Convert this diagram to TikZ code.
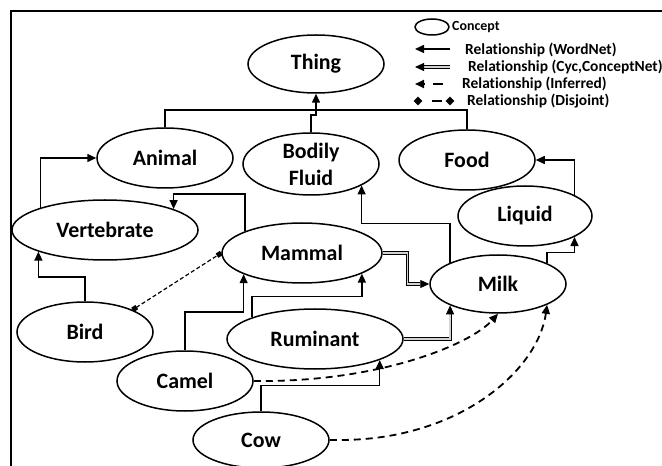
\documentclass[tikz,border=0pt]{standalone}
\usepackage{fontspec}
\setmainfont{Carlito}[Ligatures=NoCommon]
\usetikzlibrary{shapes.geometric,arrows.meta}
\begin{document}
\begin{tikzpicture}[x=1bp,y=-1bp,
  concept/.style={draw, ellipse, line width=1.5bp, inner sep=0pt, align=center,
    font=\fontsize{22}{27}\selectfont\bfseries},
  tip/.style={-{Triangle[length=9bp,width=8bp]}},
  link/.style={draw, line width=1.5bp},
  wordnet/.style={link, tip},
  cyc/.style={draw, line width=0.9bp, double=gray!35, double distance=1.3bp, tip},
  inferred/.style={link, line width=1.8bp, dash pattern=on 7bp off 5bp, tip},
  disjoint/.style={draw, line width=1.2bp, dash pattern=on 4bp off 2.5bp,
    {Square[length=5bp,width=5bp]}-{Square[length=5bp,width=5bp]}},
  legtext/.style={anchor=west, inner sep=0pt, font=\fontsize{14}{16}\selectfont\bfseries},
  reltext/.style={legtext, font=\fontsize{15.5}{18}\selectfont\bfseries},
  legdiamond/.style={diamond, fill, inner sep=0pt, minimum size=9bp}
]
\useasboundingbox (0,0) rectangle (662,466);

% frame
\draw[line width=2bp] (11,466) -- (11,11) -- (662,11);

% concepts
\node[concept, minimum width=136bp, minimum height=58bp] (thing)  at (316,64)  {Thing};
\node[concept, minimum width=136bp, minimum height=60bp] (animal) at (165,158) {Animal};
\node[concept, minimum width=136bp, minimum height=62bp] (bodily) at (311,164) {Bodily\\Fluid};
\node[concept, minimum width=136bp, minimum height=60bp] (food)   at (467,160) {Food};
\node[concept, minimum width=186bp, minimum height=60bp] (vert)   at (105,230) {Vertebrate};
\node[concept, minimum width=134bp, minimum height=60bp] (liquid) at (525,216) {Liquid};
\node[concept, minimum width=160bp, minimum height=60bp] (mammal) at (302,253) {Mammal};
\node[concept, minimum width=136bp, minimum height=58bp] (milk)   at (498,284) {Milk};
\node[concept, minimum width=136bp, minimum height=60bp] (bird)   at (85,332)  {Bird};
\node[concept, minimum width=176bp, minimum height=60bp] (rum)    at (315,339) {Ruminant};
\node[concept, minimum width=136bp, minimum height=60bp] (camel)  at (185,381) {Camel};
\node[concept, minimum width=136bp, minimum height=56bp] (cow)    at (261,440) {Cow};

% is-a links up to Thing
\coordinate (hub) at (316,110);
\draw[link] (animal.north) |- (hub);
\draw[link] (food.north) |- (hub);
\draw[wordnet] (bodily.north) |- (316,115) -- (thing.south);

% WordNet links
\draw[wordnet] (vert.161.7) |- (animal.west);
\draw[wordnet] (mammal.159.7) -- ++(0,-37) -| (vert.17.7);
\draw[wordnet] (bird.north) -- ++(0,-24) -| (vert.198.3);
\draw[wordnet] (camel.north) -- ++(0,-38) -| (mammal.200.3);
\draw[wordnet] (rum.161) -- ++(0,-21) -| (mammal.-19.6);
\draw[wordnet] (milk.156) -- ++(0,-39) -| (bodily.-23.7);
\draw[wordnet] (milk.23.1) -- ++(0,-10.5) -| (liquid.-23.5);
\draw[wordnet] (liquid.23.5) |- (food.east);
\draw[wordnet] (cow.north) -- ++(0,-26) -| (rum.-18.4);

% Cyc / ConceptNet links
\draw[cyc] (mammal.east) -- ++(25,0) |- (milk.west);
\draw[cyc] (rum.east) -| (milk.204);

% disjoint
\draw[disjoint] (bird.25) -- (mammal.west);

% inferred links
\draw[inferred] (camel.east) -- ++(9,0) .. controls (380,381) and (470,345) .. (milk.south);
\draw[inferred] (cow.east) -- ++(10,0) .. controls (460,440) and (538,370) .. (milk.-23.1);

% legend
\node[draw, ellipse, line width=1.5bp, minimum width=34bp, minimum height=16bp, inner sep=0pt] (lgc) at (432,27) {};
\node[legtext] (lgt1) at (452,27) {Concept};
\coordinate (la1) at (450,49);  \coordinate (lb1) at (415,49);
\coordinate (la2) at (450,67);  \coordinate (lb2) at (415,67);
\coordinate (la3) at (443,84);  \coordinate (lb3) at (415,84);
\draw[wordnet] (la1) -- (lb1);
\draw[cyc] (la2) -- (lb2);
\draw[inferred, dash pattern=on 10bp off 8bp] (la3) -- (lb3);
\node[legdiamond] (ld1) at (418,101) {};
\node[legdiamond] (ld2) at (450,101) {};
\draw[line width=1.8bp, dash pattern=on 0bp off 9bp on 10bp off 30bp] (ld1.east) -- (ld2.west);
\node[reltext] (lgt2) at (465,50) {Relationship (WordNet)};
\node[reltext] (lgt3) at (468,67) {Relationship (Cyc,ConceptNet)};
\node[reltext] (lgt4) at (462,84) {Relationship (Inferred)};
\node[reltext] (lgt5) at (467,101) {Relationship (Disjoint)};
\end{tikzpicture}
\end{document}
